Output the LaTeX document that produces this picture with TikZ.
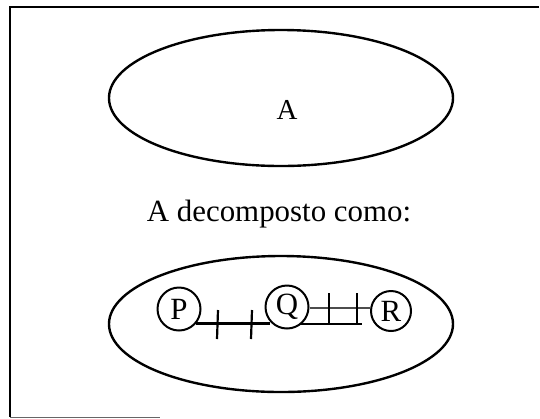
\documentclass[tikz,border=0pt]{standalone}
\usepackage{fontspec}
\setmainfont{Liberation Serif}
\usetikzlibrary{shapes.geometric, positioning}

\begin{document}
\begin{tikzpicture}[x=1bp, y=-1bp, line width=2.4pt,
    blob/.style={draw, ellipse, minimum width=344bp, minimum height=136bp, inner sep=0pt},
    part/.style={draw, circle, line width=2pt, minimum size=43bp, inner sep=0pt, font=\fontsize{31}{34}\selectfont},
    bar/.style={line width=2.2pt},
    thin bar/.style={line width=1.2pt, black!70}]
    \useasboundingbox (0,0) rectangle (540,418);
    % frame
    \coordinate (tr) at (539,7);
    \coordinate (tl) at (10,7);
    \coordinate (bl) at (10,417);
    \coordinate (br) at (160,417);
    \draw[line width=2pt] (tr) -- (tl) -- (bl);
    \draw[line width=1pt, black!60] (bl) -- (br);
    % whole
    \node[blob] (A) at (281,98) {};
    \node[font=\fontsize{29}{32}\selectfont] (lblA) at (287,110) {A};
    \node[font=\fontsize{31}{36}\selectfont] (txt) at (279,214) {A decomposto como:};
    % decomposed
    \node[blob] (Ad) at (281,324) {};
    \node[part] (P) at (179,309) {P};
    \node[part] (Q) at (287,307) {Q};
    \node[part, minimum size=40bp] (R) at (391,311) {R};
    % P -- Q
    \draw[bar] (P.-40) -- (Q.-140 |- P.-40);
    \draw[bar] (218,310) -- (217,339);
    \draw[bar] (252,310) -- (251,339);
    % Q -- R
    \draw[thin bar] (Q.east |- 0,308) -- (R.west |- 0,308);
    \draw[bar] (Q.-55 |- 0,324) -- (362,324);
    \draw[bar] (329,293) -- (329,324);
    \draw[bar] (357,293) -- (357,324);
\end{tikzpicture}
\end{document}
